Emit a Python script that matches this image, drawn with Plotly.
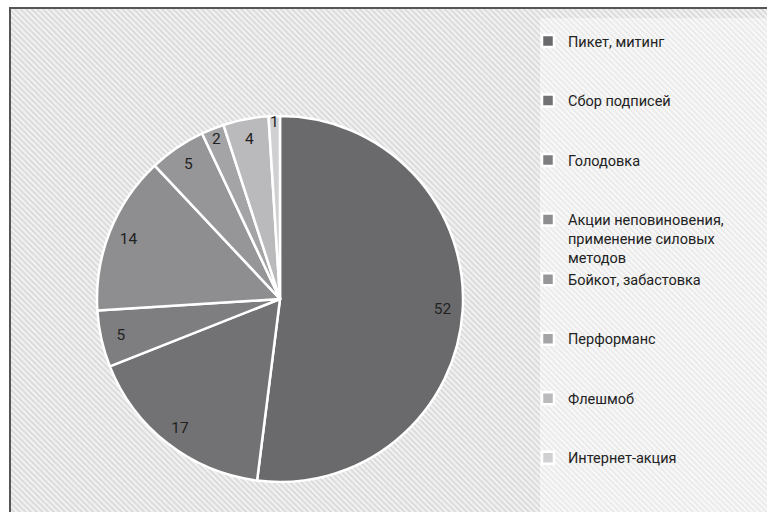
import plotly.graph_objects as go

# ---- data ----
categories = [
    "Пикет, митинг",
    "Сбор подписей",
    "Голодовка",
    "Акции неповиновения,<br>применение силовых<br>методов",
    "Бойкот, забастовка",
    "Перформанс",
    "Флешмоб",
    "Интернет-акция",
]
values = [52, 17, 5, 14, 5, 2, 4, 1]
colors = ["#6a6a6c", "#727274", "#7e7e80", "#8e8e90", "#969698", "#a4a4a6", "#bababc", "#d0d0d2"]

W, H = 767, 512
NB = "\u00a0"
FONT = "Roboto, 'Open Sans', sans-serif"

def pad_label(lbl):
    n = lbl.count("<br>") + 1
    return lbl + ("<br>" + NB) * max(0, 3 - n)

legend_labels = [pad_label(c) for c in categories]

fig = go.Figure()

# hatched chart background
fig.add_trace(go.Scatter(
    x=[10, W + 5, W + 5, 10, 10], y=[8, 8, H + 5, H + 5, 8],
    mode="lines", line=dict(width=0), fill="toself",
    fillcolor="#f0f0f0",
    fillpattern=dict(shape="\\", fgcolor="#bdbdbd", bgcolor="#f2f2f2", size=4, solidity=0.45),
    hoverinfo="skip", showlegend=False,
))
# lighter legend panel
fig.add_trace(go.Scatter(
    x=[540, W + 5, W + 5, 540, 540], y=[18, 18, H + 5, H + 5, 18],
    mode="lines", line=dict(width=0), fill="toself",
    fillcolor="#f6f6f6",
    fillpattern=dict(shape="\\", fgcolor="#d8d8d8", bgcolor="#f8f8f8", size=4, solidity=0.4),
    hoverinfo="skip", showlegend=False,
))

cx, cy, r = 280, 299, 183
dom_x = [(cx - r) / W, (cx + r) / W]
dom_y = [(H - cy - r) / H, (H - cy + r) / H]

fig.add_trace(go.Pie(
    labels=legend_labels, values=values, sort=False, direction="clockwise", rotation=0,
    marker=dict(colors=colors, line=dict(color="white", width=2.5)),
    textinfo="none", domain=dict(x=dom_x, y=dom_y), showlegend=True,
))
# transparent ring used only to place the value labels near the rim
fig.add_trace(go.Pie(
    labels=legend_labels, values=values, sort=False, direction="clockwise", rotation=0,
    hole=0.78,
    marker=dict(colors=["rgba(0,0,0,0)"] * len(values), line=dict(width=0)),
    textinfo="value", textposition="inside", insidetextorientation="horizontal",
    textfont=dict(family=FONT, size=15.5, color="#222222"),
    domain=dict(x=dom_x, y=dom_y), showlegend=False, hoverinfo="skip",
))

fig.update_layout(
    width=W, height=H,
    margin=dict(l=0, r=0, t=0, b=0),
    paper_bgcolor="white", plot_bgcolor="white",
    xaxis=dict(range=[0, W], visible=False, fixedrange=True, domain=[0, 1]),
    yaxis=dict(range=[H, 0], visible=False, fixedrange=True, domain=[0, 1]),
    uniformtext=dict(minsize=15.5, mode="show"),
    legend=dict(
        x=528 / W, y=1 - 37 / H, xanchor="left", yanchor="top",
        bgcolor="rgba(0,0,0,0)", valign="top",
        font=dict(family=FONT, size=14.5, color="#222222"),
        traceorder="normal",
    ),
    shapes=[dict(type="rect", xref="x", yref="y", x0=10, y0=8, x1=W + 10, y1=H + 10,
                 line=dict(color="#555555", width=2), fillcolor="rgba(0,0,0,0)", layer="above")],
    showlegend=True,
)

fig.write_html("out.html", config={"displayModeBar": False},
               post_script="document.body.style.margin='0';")
